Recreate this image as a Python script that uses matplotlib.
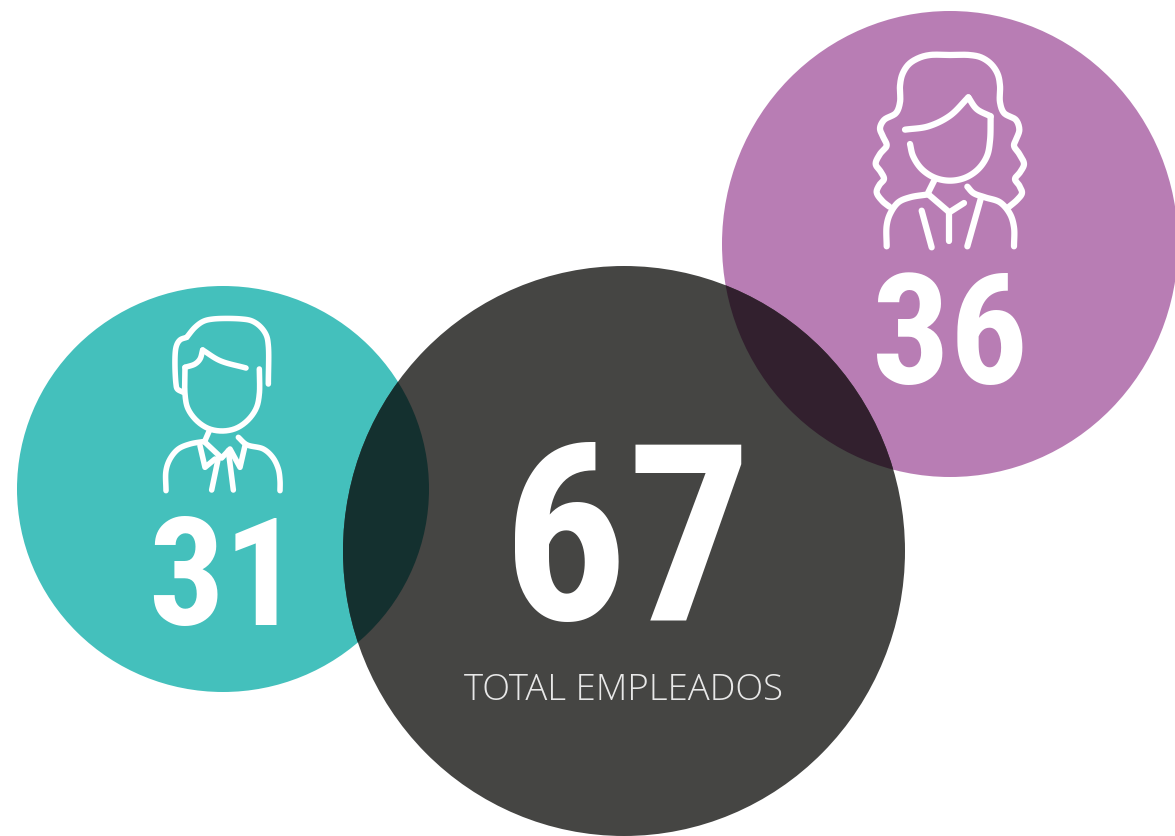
import numpy as np
import matplotlib
matplotlib.use("Agg")
import matplotlib.pyplot as plt
from matplotlib.patches import Ellipse

# ---- data ----
categories = ["Hombres", "Mujeres", "Total"]
values = [31, 36, 67]
total_label = "TOTAL EMPLEADOS"

# ---- layout (pixels) ----
TEAL, PURPLE, DARK = "#44C0BC", "#B87DB4", "#454543"
OV_TEAL, OV_PURPLE = "#14302F", "#32202E"
WHITE = "#FFFFFF"

fig = plt.figure(figsize=(11.75, 8.37), dpi=100, facecolor="white")
ax = fig.add_axes([0, 0, 1, 1])
ax.set_xlim(0, 1175)
ax.set_ylim(837, 0)
ax.axis("off")


def smooth(points, n=14):
    """Centripetal Catmull-Rom curve through the outline's control points."""
    p = np.array(points, float)
    if len(p) < 3:
        return p
    q = np.vstack([2 * p[0] - p[1], p, 2 * p[-1] - p[-2]])
    out = []
    for i in range(1, len(q) - 2):
        P0, P1, P2, P3 = q[i - 1], q[i], q[i + 1], q[i + 2]
        t0 = 0.0
        t1 = t0 + np.linalg.norm(P1 - P0) ** 0.5
        t2 = t1 + np.linalg.norm(P2 - P1) ** 0.5
        t3 = t2 + np.linalg.norm(P3 - P2) ** 0.5
        for t in np.linspace(t1, t2, n, endpoint=False):
            A1 = (t1 - t) / (t1 - t0) * P0 + (t - t0) / (t1 - t0) * P1
            A2 = (t2 - t) / (t2 - t1) * P1 + (t - t1) / (t2 - t1) * P2
            A3 = (t3 - t) / (t3 - t2) * P2 + (t - t2) / (t3 - t2) * P3
            B1 = (t2 - t) / (t2 - t0) * A1 + (t - t0) / (t2 - t0) * A2
            B2 = (t3 - t) / (t3 - t1) * A2 + (t - t1) / (t3 - t1) * A3
            out.append((t2 - t) / (t2 - t1) * B1 + (t - t1) / (t2 - t1) * B2)
    out.append(p[-1])
    return np.array(out)


def icon(strokes, ox, oy, lw, zorder=5):
    for pts, curved in strokes:
        xy = smooth(pts) if curved else np.array(pts, float)
        ax.plot(ox + xy[:, 0] / 3, oy + xy[:, 1] / 3, color=WHITE, lw=lw,
                solid_capstyle="round", solid_joinstyle="round", zorder=zorder)


# circles
shapes = {
    "Hombres": (223, 490, 206, 203, TEAL),
    "Mujeres": (950, 245, 228, 233, PURPLE),
    "Total": (624, 552, 281, 285, DARK),
}
patches = {}
for name in categories:
    cx, cy, rx, ry, col = shapes[name]
    patches[name] = Ellipse((cx, cy), 2 * rx, 2 * ry, fc=col, ec="none", zorder=1)
    ax.add_patch(patches[name])

# overlaps: the dark circle multiplied over the coloured ones
for name, col in (("Hombres", OV_TEAL), ("Mujeres", OV_PURPLE)):
    cx, cy, rx, ry, _ = shapes[name]
    ov = Ellipse((cx, cy), 2 * rx, 2 * ry, fc=col, ec="none", zorder=2)
    ax.add_patch(ov)
    ov.set_clip_path(patches["Total"])

# woman icon
woman = [
    ([(88, 503), (68, 487), (50, 460), (58, 438), (72, 420), (62, 398), (47, 375), (60, 345), (80, 320),
      (70, 295), (60, 268), (72, 243), (108, 222), (120, 190), (120, 140), (127, 106), (146, 76),
      (176, 57), (210, 48), (270, 48), (328, 48), (363, 55), (393, 75), (413, 105), (420, 140), (420, 190),
      (432, 222), (468, 243), (478, 272), (470, 298), (462, 320), (478, 345), (492, 375), (480, 400), (465, 420),
      (478, 440), (486, 462), (472, 482), (445, 505)], True),
    ([(135, 272), (205, 262), (270, 230), (325, 175)], True),
    ([(325, 175), (350, 210), (392, 232)], True),
    ([(392, 232), (390, 305), (381, 351), (355, 390), (316, 416), (270, 425), (224, 416),
      (185, 390), (159, 351), (150, 315)], True),
    ([(225, 420), (205, 460)], False),
    ([(80, 622), (80, 560), (90, 525), (115, 490), (150, 475), (205, 466)], True),
    ([(205, 466), (268, 520), (312, 492)], False),
    ([(268, 520), (268, 605)], False),
    ([(185, 515), (215, 625)], False),
    ([(362, 480), (322, 622)], False),
    ([(322, 443), (340, 462), (375, 475), (420, 490), (450, 525), (462, 565), (462, 622)], True),
]
icon(woman, 860, 40, 4.5)

# man icon
man = [
    ([(355, 240), (355, 125), (349, 94), (331, 68), (306, 51), (275, 45), (190, 45), (160, 52), (135, 70), (110, 100)], True),
    ([(110, 100), (90, 108), (78, 130), (78, 240), (82, 255), (100, 265)], True),
    ([(105, 190), (135, 180), (150, 165), (158, 138)], True),
    ([(158, 138), (210, 170), (288, 192)], True),
    ([(105, 190), (105, 270), (113, 312), (138, 348), (174, 373), (216, 381), (258, 373),
      (294, 348), (319, 312), (328, 270), (328, 195)], True),
    ([(178, 380), (165, 410)], False),
    ([(48, 560), (48, 500), (60, 465), (85, 435), (120, 420), (165, 412)], True),
    ([(165, 415), (215, 462), (240, 435), (270, 490), (285, 425)], False),
    ([(150, 425), (165, 490), (195, 465)], False),
    ([(205, 462), (185, 558)], False),
    ([(235, 440), (250, 558)], False),
    ([(265, 400), (290, 422), (340, 435), (368, 460), (385, 495), (390, 530), (390, 560)], True),
]
icon(man, 150, 305, 4.0)

# numbers
NUM_FONT = ["Roboto Condensed", "DejaVu Sans"]
num_pos = {"Hombres": (224, 625, 108), "Mujeres": (950, 384, 111), "Total": (627, 620, 177)}
for name, val in zip(categories, values):
    x, y, size = num_pos[name]
    ax.text(x, y, str(val), color=WHITE, fontsize=size, fontweight="bold",
            family=NUM_FONT, ha="center", va="baseline", zorder=6)

ax.text(623, 700, total_label, color="#E8E8E8", fontsize=26.3, fontweight="light",
        family=["Open Sans", "DejaVu Sans"], ha="center", va="baseline", zorder=6)

fig.savefig("out.png", dpi=100)
